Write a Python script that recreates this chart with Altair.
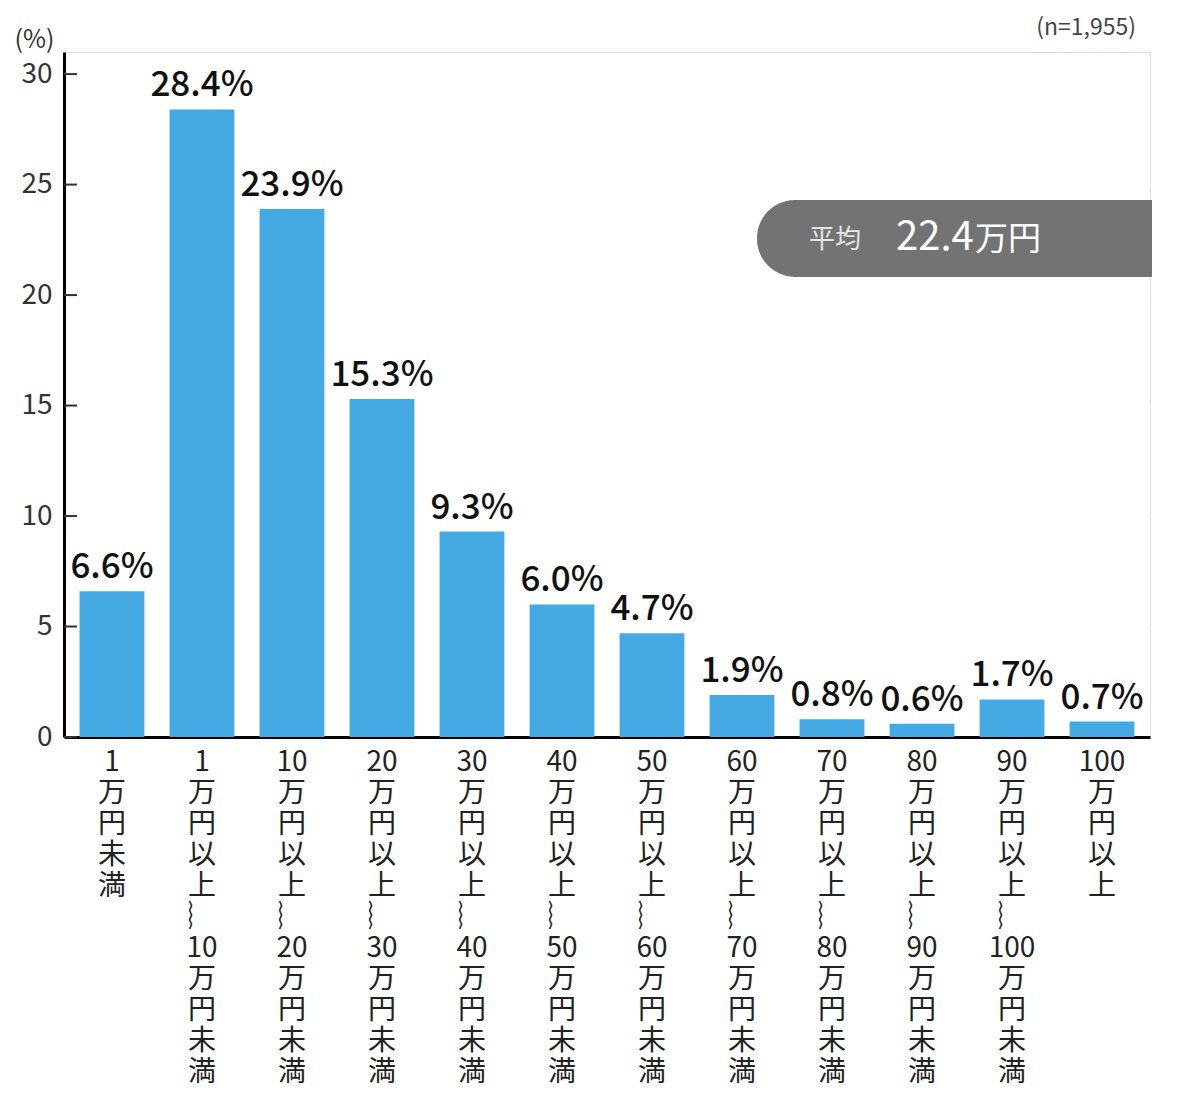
import re

import altair as alt
import pandas as pd

# Data
categories = [
    "1万円未満",
    "1万円以上～10万円未満",
    "10万円以上～20万円未満",
    "20万円以上～30万円未満",
    "30万円以上～40万円未満",
    "40万円以上～50万円未満",
    "50万円以上～60万円未満",
    "60万円以上～70万円未満",
    "70万円以上～80万円未満",
    "80万円以上～90万円未満",
    "90万円以上～100万円未満",
    "100万円以上",
]
shares = [6.6, 28.4, 23.9, 15.3, 9.3, 6.0, 4.7, 1.9, 0.8, 0.6, 1.7, 0.7]
y_ticks = [0, 5, 10, 15, 20, 25, 30]
sample_note = "(n=1,955)"
avg_label = "平均"
avg_value = "22.4"
avg_unit = "万円"

FONT = "Noto Sans CJK JP"
BLUE = "#45a9e3"


def vertical(text: str) -> str:
    # stack characters top to bottom, keep digit groups together
    parts = re.findall(r"\d+|.", text)
    parts = ["︴" if p == "～" else p for p in parts]
    return "\n".join(parts)


df = pd.DataFrame(
    {
        "cat": [vertical(c) for c in categories],
        "pct": shares,
        "text": [f"{v:.1f}%" for v in shares],
    }
)
ticks_df = pd.DataFrame({"pct": y_ticks})

x_enc = alt.X(
    "cat:N",
    sort=None,
    title=None,
    scale=alt.Scale(paddingInner=0.28, paddingOuter=0.173),
    axis=alt.Axis(
        labelExpr="split(datum.value, '\\n')",
        labelAngle=0,
        labelFont=FONT,
        labelFontSize=28,
        labelLineHeight=31,
        labelColor="#222",
        labelPadding=11,
        labelBaseline="top",
        ticks=False,
        domainColor="#000",
        domainWidth=3,
        grid=False,
    ),
)
y_scale = alt.Scale(domain=[0, 31], nice=False)
y_axis = alt.Axis(
    values=y_ticks,
    title="(%)",
    titleAngle=0,
    titleX=-30,
    titleY=0,
    titleAlign="center",
    titleBaseline="bottom",
    titleFont=FONT,
    titleFontSize=25,
    titleFontWeight="normal",
    titleColor="#333",
    labelFont=FONT,
    labelFontSize=28,
    labelColor="#333",
    labelPadding=12,
    ticks=False,
    domainColor="#000",
    domainWidth=3,
    grid=True,
    gridColor="#ffffff",
    gridWidth=3,
)

base = alt.Chart(df).encode(x=x_enc)

bars = base.mark_bar(color=BLUE).encode(
    y=alt.Y("pct:Q", scale=y_scale, axis=y_axis)
)

values = base.mark_text(
    font=FONT, fontSize=35, fontWeight=500, color="#111", baseline="alphabetic", dy=-13
).encode(y=alt.Y("pct:Q", scale=y_scale, axis=y_axis), text="text:N")

# short inward ticks on the y axis
yticks = (
    alt.Chart(ticks_df)
    .mark_rule(color="#333", strokeWidth=2)
    .encode(
        y=alt.Y("pct:Q", scale=y_scale, axis=y_axis),
        x=alt.value(0),
        x2=alt.value(13),
    )
)

# average badge
box = (
    alt.Chart(pd.DataFrame({"k": [0]}))
    .mark_rect(
        color="#737373",
        cornerRadiusTopLeft=38,
        cornerRadiusBottomLeft=38,
    )
    .encode(x=alt.value(693), x2=alt.value(1088), y=alt.value(148), y2=alt.value(225))
)
badge_label = (
    alt.Chart(pd.DataFrame({"t": [avg_label]}))
    .mark_text(font=FONT, fontSize=26, color="#e6e6e6", align="left", baseline="middle")
    .encode(text="t:N", x=alt.value(745), y=alt.value(188))
)
badge_value = (
    alt.Chart(pd.DataFrame({"t": [avg_value]}))
    .mark_text(font=FONT, fontSize=40, color="#ffffff", align="left", baseline="middle")
    .encode(text="t:N", x=alt.value(832), y=alt.value(186))
)
badge_unit = (
    alt.Chart(pd.DataFrame({"t": [avg_unit]}))
    .mark_text(font=FONT, fontSize=33, color="#ffffff", align="left", baseline="middle")
    .encode(text="t:N", x=alt.value(911), y=alt.value(188))
)
note = (
    alt.Chart(pd.DataFrame({"t": [sample_note]}))
    .mark_text(font=FONT, fontSize=23, color="#444", align="right", baseline="middle")
    .encode(text="t:N", x=alt.value(1072), y=alt.value(-24))
)

chart = (
    alt.layer(bars, yticks, values, box, badge_label, badge_value, badge_unit, note)
    .properties(
        width=1086,
        height=685,
        autosize=alt.AutoSizeParams(type="none"),
        padding={"left": 56, "top": 44, "right": 34, "bottom": 360},
    )
    .configure_view(fill="#f4f4f4", stroke=None)
    .configure(background="#ffffff")
)

chart.save("out.html", embed_options={"renderer": "svg", "actions": False})
